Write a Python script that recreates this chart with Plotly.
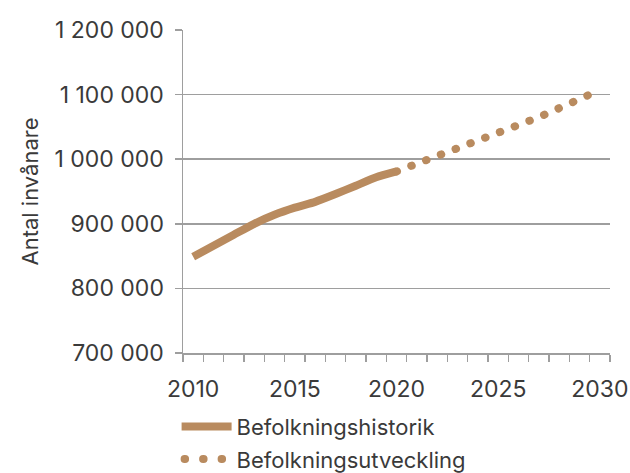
import plotly.graph_objects as go

# Data
hist_years = [2010, 2011, 2012, 2013, 2014, 2015, 2016, 2017, 2018, 2019, 2020]
hist_values = [849000, 866000, 883000, 900000, 914000, 925000, 934000, 946000, 959000, 972000, 981000]

proj_years = [2020, 2021, 2022, 2023, 2024, 2025, 2026, 2027, 2028, 2029, 2030]
proj_values = [981000, 993500, 1005000, 1016500, 1029000, 1040500, 1053000, 1065000, 1080000, 1094000, 1107000]

x_tickvals = [2010, 2015, 2020, 2025, 2030]
x_ticktext = ["2010", "2015", "2020", "2025", "2030"]
y_tickvals = [700000, 800000, 900000, 1000000, 1100000, 1200000]
y_ticktext = ["700 000", "800 000", "900 000", "1 000 000", "1 100 000", "1 200 000"]

hist_name = "Befolkningshistorik"
proj_name = "Befolkningsutveckling"
y_title = "Antal invånare"

COLOR = "#B98B5F"
GRID = "#9E9E9E"
TEXT = "#3A3A3A"
FONT = "Inter"

fig = go.Figure()
fig.add_trace(go.Scatter(
    x=hist_years, y=hist_values, mode="lines", name=hist_name,
    line=dict(color=COLOR, width=8, shape="spline", smoothing=0.5),
    legendgroup="a",
))
fig.add_trace(go.Scatter(
    x=proj_years, y=proj_values, mode="lines", name=proj_name,
    line=dict(color=COLOR, width=8, dash="0.5px,15.3px"),
    legendgroup="b",
))

fig.update_layout(
    width=630, height=473,
    margin=dict(l=183, r=20, t=30, b=120, autoexpand=False),
    paper_bgcolor="white", plot_bgcolor="white",
    font=dict(family=FONT, size=22, color=TEXT),
    showlegend=True,
    legend=dict(
        orientation="v", x=-0.015, xanchor="left", y=-0.163, yanchor="top",
        font=dict(family=FONT, size=22, color=TEXT),
        itemwidth=50, traceorder="grouped", tracegroupgap=1,
        bgcolor="rgba(0,0,0,0)",
    ),
)

fig.update_xaxes(
    range=[2009.5, 2030.5],
    tickvals=x_tickvals, ticktext=x_ticktext,
    ticks="outside", ticklen=7, tickcolor="rgba(0,0,0,0)",
    ticklabelstandoff=8,
    showgrid=False, zeroline=False,
    showline=True, linecolor=GRID, linewidth=1.5,
    minor=dict(tick0=2009.5, dtick=1, ticks="outside", ticklen=7,
               tickcolor=GRID, tickwidth=1.5, showgrid=False),
    tickfont=dict(family=FONT, size=23, color=TEXT),
    fixedrange=True,
)
fig.update_yaxes(
    range=[700000, 1200000],
    tickvals=y_tickvals, ticktext=y_ticktext,
    ticks="outside", ticklen=7, tickcolor=GRID, tickwidth=1.5,
    ticklabelstandoff=6,
    showgrid=True, gridcolor=GRID, gridwidth=1.5,
    zeroline=False, showline=True, linecolor=GRID, linewidth=1.5,
    tickfont=dict(family=FONT, size=23, color=TEXT),
    title=dict(text=y_title, font=dict(family=FONT, size=22, color=TEXT), standoff=10),
    fixedrange=True,
)

post = """
document.body.style.margin = '0';
document.body.style.overflow = 'hidden';
var fix = function(){
  document.querySelectorAll('path.js-line').forEach(function(p){
    var d = p.style.strokeDasharray;
    if (d && d !== 'none' && d !== '') {
      p.style.strokeLinecap = 'round';
      if (p.closest('.legend')) {
        p.style.strokeDasharray = '0.5px,18px';
        p.style.strokeDashoffset = '15.5px';
      }
    }
  });
};
fix();
var gd = document.getElementsByClassName('plotly-graph-div')[0];
if (gd && gd.on) { gd.on('plotly_afterplot', fix); }
"""

fig.write_html("out.html", post_script=post, config={"staticPlot": True})
